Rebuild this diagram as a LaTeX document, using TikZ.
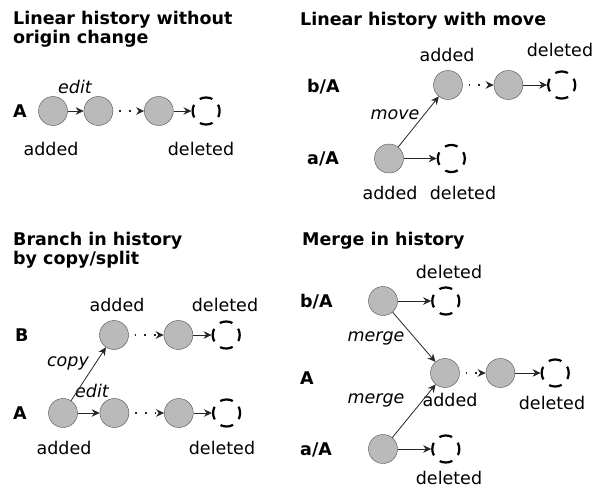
\documentclass[tikz,border=0pt]{standalone}
\usepackage{fontspec}
\setmainfont{DejaVu Sans}[ItalicFont={DejaVu Sans Oblique},BoldFont={DejaVu Sans Bold}]
\usetikzlibrary{positioning,arrows.meta}

\begin{document}
\begin{tikzpicture}[x=1pt,y=-1pt,
				rev/.style={circle,draw=black!70,fill=black!27,minimum size=29pt,inner sep=0pt},
				gone/.style={circle,draw=black,line width=2.2pt,minimum size=27pt,inner sep=0pt,
					dash pattern=on 13pt off 8.2pt,dash phase=6.5pt},
				hop/.style={-{Stealth[length=8pt,width=7.5pt]},draw=black!85,line width=0.8pt},
				elided/.style={hop,line width=1.8pt,dash pattern=on 1.8pt off 8pt,dash phase=4pt},
				heading/.style={font=\bfseries\fontsize{17.5}{19}\selectfont,align=left,anchor=north west,inner sep=0pt},
				row/.style={font=\bfseries\fontsize{17.5}{19}\selectfont,anchor=west,inner sep=0pt},
				note/.style={font=\fontsize{17.5}{19}\selectfont,inner sep=0pt},
				op/.style={note,font=\itshape\fontsize{17.5}{19}\selectfont}]
				\useasboundingbox (0,0) rectangle (598,488);
				% linear history without origin change
				\node[heading] (T1)  at (13,11)        {Linear history without\\origin change};
				\node[row]     (R1)  at (13,111)       {A};
				\node[rev]     (A1)  at (53,111)       {};
				\node[rev]     (A2)  [right=16pt of A1] {};
				\node[rev]     (A3)  [right=31pt of A2] {};
				\node[gone]    (A4)  [right=18pt of A3] {};
				\node[op]      (E1)  at (75,87)        {edit};
				\node[note]    (N1)  at (51,149)       {added};
				\node[note]    (N2)  at (201,149)      {deleted};
				\draw[hop]    (A1) -- (A2);
				\draw[elided] (A2) -- (A3);
				\draw[hop]    (A3) -- (A4);

				% linear history with move
				\node[heading] (T2)  at (300,12)       {Linear history with move};
				\node[row]     (R2)  at (307,87)       {b/A};
				\node[row]     (R3)  at (307,159)      {a/A};
				\node[rev]     (B1)  at (448,85)       {};
				\node[rev]     (B2)  [right=31pt of B1] {};
				\node[gone]    (B3)  [right=24pt of B2] {};
				\node[rev]     (B0)  at (389,158.5)    {};
				\node[gone]    (BX)  [right=33pt of B0] {};
				\node[note]    (N3)  at (447,55)       {added};
				\node[note]    (N4)  at (560,50)       {deleted};
				\node[op]      (E2)  at (395,115)      {move};
				\node[note]    (N5)  at (390,193)      {added};
				\node[note]    (N6)  at (463,193)      {deleted};
				\draw[hop]    (B0) -- (B1);
				\draw[elided] (B1) -- (B2);
				\draw[hop]    (B2) -- (B3);
				\draw[hop]    (B0) -- (BX);

				% branch in history by copy/split
				\node[heading] (T3)  at (13,232)       {Branch in history\\by copy/split};
				\node[row]     (R4)  at (15,335)       {B};
				\node[row]     (R5)  at (13,413)       {A};
				\node[rev]     (C1)  at (114,335)      {};
				\node[rev]     (C2)  [right=35pt of C1] {};
				\node[gone]    (C3)  [right=18.5pt of C2] {};
				\node[rev]     (D1)  at (63,413)       {};
				\node[rev]     (D2)  [right=22pt of D1] {};
				\node[rev]     (D3)  [right=35pt of D2] {};
				\node[gone]    (D4)  [right=18.5pt of D3] {};
				\node[note]    (N7)  at (117,305)      {added};
				\node[note]    (N8)  at (225,305)      {deleted};
				\node[op]      (E3)  at (68,363)       {copy};
				\node[op]      (E4)  at (92,391)       {edit};
				\node[note]    (N9)  at (64,448)       {added};
				\node[note]    (N10) at (222,448)      {deleted};
				\draw[hop]    (D1) -- (C1);
				\draw[elided] (C1) -- (C2);
				\draw[hop]    (C2) -- (C3);
				\draw[hop]    (D1) -- (D2);
				\draw[elided] (D2) -- (D3);
				\draw[hop]    (D3) -- (D4);

				% merge in history
				\node[heading] (T4)  at (302,232)      {Merge in history};
				\node[row]     (R6)  at (300,302)      {b/A};
				\node[row]     (R7)  at (300,378)      {A};
				\node[row]     (R8)  at (300,450)      {a/A};
				\node[rev]     (F1)  at (383,301)      {};
				\node[gone]    (F2)  [right=33.5pt of F1] {};
				\node[rev]     (G1)  at (445,373)      {};
				\node[rev]     (G2)  [right=26pt of G1] {};
				\node[gone]    (G3)  [right=25.5pt of G2] {};
				\node[rev]     (H1)  at (383,449)      {};
				\node[gone]    (H2)  [right=33.5pt of H1] {};
				\node[note]    (N11) at (449,272)      {deleted};
				\node[op]      (E5)  at (376,338)      {merge};
				\node[op]      (E6)  at (376,400)      {merge};
				\node[note]    (N12) at (450,400)      {added};
				\node[note]    (N13) at (552,403)      {deleted};
				\node[note]    (N14) at (449,478)      {deleted};
				\draw[hop]    (F1) -- (F2);
				\draw[hop]    (F1) -- (G1);
				\draw[hop]    (H1) -- (G1);
				\draw[elided] (G1) -- (G2);
				\draw[hop]    (G2) -- (G3);
				\draw[hop]    (H1) -- (H2);
			\end{tikzpicture}
\end{document}
